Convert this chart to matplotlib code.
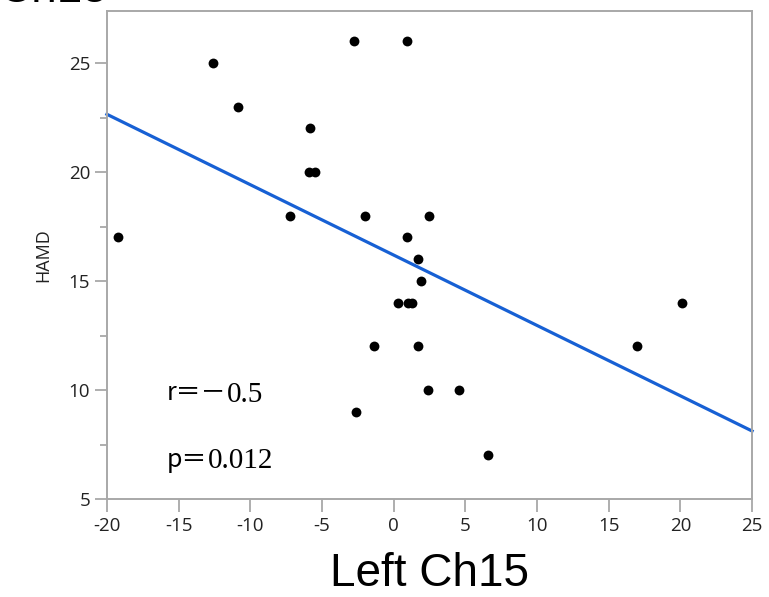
import numpy as np
import matplotlib
matplotlib.use("Agg")
import matplotlib.pyplot as plt
from matplotlib.ticker import MultipleLocator

# data
left_ch15 = [-2.75, 0.93, -12.57, -10.85, -5.84, -5.87, -5.5, -7.25, -2.0, 2.47,
             -19.2, 0.96, 1.72, 1.93, 0.30, 1.03, 1.28, 20.1, -1.34, 1.68,
             17.0, 2.41, 4.55, -2.66, 6.61]
hamd = [26, 26, 25, 23, 22, 20, 20, 18, 18, 18,
        17, 17, 16, 15, 14, 14, 14, 14, 12, 12,
        12, 10, 10, 9, 7]
x_ticks = [-20, -15, -10, -5, 0, 5, 10, 15, 20, 25]
y_ticks = [5, 10, 15, 20, 25]
r_value = "0.5"      # shown with a leading minus sign
p_value = "0.012"

fig = plt.figure(figsize=(7.69, 5.97), dpi=100)
ax = fig.add_axes([0.139, 0.164, 0.839, 0.818])

gray = "#a8a8a8"
ax.scatter(left_ch15, hamd, s=50, color="black", zorder=3, linewidths=0)

# least squares line across the whole x range
slope, icpt = np.polyfit(left_ch15, hamd, 1)
xs = np.array([-20, 25])
ax.plot(xs, slope * xs + icpt, color="#1760d4", lw=2.3, zorder=2, clip_on=False)

ax.set_xlim(-20, 25)
ax.set_ylim(5, 27.4)
ax.set_xticks(x_ticks)
ax.set_yticks(y_ticks)
ax.yaxis.set_minor_locator(MultipleLocator(2.5))
ax.set_xticklabels([str(v) for v in x_ticks], family="Open Sans", fontsize=13.5, color="#222222")
ax.set_yticklabels([str(v) for v in y_ticks], family="Open Sans", fontsize=13.5, color="#222222")
ax.tick_params(axis="x", which="major", length=9, width=1.3, color=gray, pad=4)
ax.tick_params(axis="y", which="major", length=8.5, width=1.3, color=gray, pad=3.5)
ax.tick_params(axis="y", which="minor", length=5, width=1.3, color=gray)
for sp in ax.spines.values():
    sp.set_color(gray)
    sp.set_linewidth(1.4)

ax.set_ylabel("HAMD", family="Open Sans", fontsize=13, color="#222222", labelpad=12)
ax.set_xlabel("Left Ch15", family="Liberation Sans", fontsize=33, labelpad=12)

# r / p annotation: sans letter + full-width sign, serif numbers
cjk = ["Noto Sans CJK SC", "DejaVu Sans"]
t1 = ax.text(0.093, 0.203, "r＝－", transform=ax.transAxes, family=cjk,
             fontsize=18, va="baseline", ha="left")
ax.annotate(r_value, xy=(1, 0.17), xycoords=t1, family="Liberation Serif", fontsize=21,
            va="baseline", ha="left")
t2 = ax.text(0.093, 0.066, "p＝", transform=ax.transAxes, family=cjk,
             fontsize=18, va="baseline", ha="left")
ax.annotate(p_value, xy=(1, 0.17), xycoords=t2, family="Liberation Serif", fontsize=21,
            va="baseline", ha="left")

# title clipped at the top edge of the image
fig.text(-0.002, 0.997, "Ch15", family="Liberation Sans", fontsize=33, va="baseline", ha="left")

fig.savefig("out.png", dpi=100)
